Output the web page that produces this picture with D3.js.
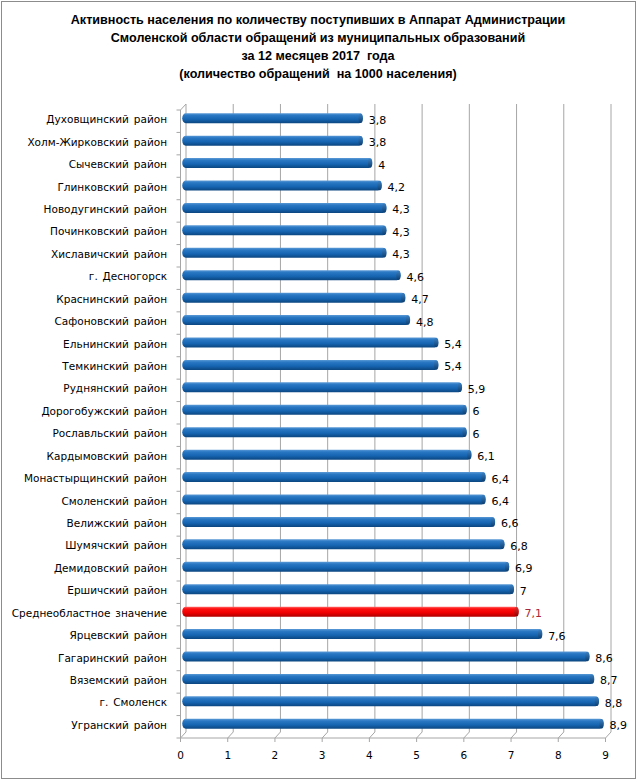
<!DOCTYPE html>
<html><head><meta charset="utf-8">
<script src="https://cdn.jsdelivr.net/npm/d3@7"></script>
<style>body{margin:0;background:#fff}svg{display:block}</style>
</head><body>
<script>
const categories = ["Духовщинский район","Холм-Жирковский район","Сычевский район","Глинковский район","Новодугинский район","Починковский район","Хиславичский район","г. Десногорск","Краснинский район","Сафоновский район","Ельнинский район","Темкинский район","Руднянский район","Дорогобужский район","Рославльский район","Кардымовский район","Монастырщинский район","Смоленский район","Велижский район","Шумячский район","Демидовский район","Ершичский район","Среднеобластное значение","Ярцевский район","Гагаринский район","Вяземский район","г. Смоленск","Угранский район"];
const values = [3.8,3.8,4,4.2,4.3,4.3,4.3,4.6,4.7,4.8,5.4,5.4,5.9,6,6,6.1,6.4,6.4,6.6,6.8,6.9,7,7.1,7.6,8.6,8.7,8.8,8.9];
const valueLabels = ["3,8","3,8","4","4,2","4,3","4,3","4,3","4,6","4,7","4,8","5,4","5,4","5,9","6","6","6,1","6,4","6,4","6,6","6,8","6,9","7","7,1","7,6","8,6","8,7","8,8","8,9"];
const highlight = "Среднеобластное значение";
const xTicks = [0,1,2,3,4,5,6,7,8,9];
const titleLines = ["Активность населения по количеству поступивших в Аппарат Администрации","Смоленской области обращений из муниципальных образований","за 12 месяцев 2017  года","(количество обращений  на 1000 населения)"];

const W = 639, H = 783;
const svg = d3.select("body").append("svg").attr("width", W).attr("height", H);
svg.append("rect").attr("x",1.5).attr("y",1.5).attr("width",634).attr("height",777).attr("fill","#fff").attr("stroke","#8c8c8c").attr("stroke-width",1);

// title
svg.append("g").selectAll("text").data(titleLines).join("text")
  .attr("x", 318).attr("y", (d,i)=>24 + i*18)
  .attr("text-anchor","middle").attr("font-family","Liberation Sans, Arial, sans-serif")
  .attr("font-weight","bold").attr("font-size","12.6px").attr("fill","#000")
  .attr("xml:space","preserve").style("white-space","pre").text(d=>d);

const x = d3.scaleLinear().domain([0,9]).range([180.5, 605.5]);
const y = d3.scaleBand().domain(categories).range([110, 738]);
const DX = 5.5, DY = -6; // depth offset of back wall

const defs = svg.append("defs");
function grad(id, stops){
  const g = defs.append("linearGradient").attr("id",id).attr("x1",0).attr("y1",0).attr("x2",0).attr("y2",1);
  stops.forEach(s=>g.append("stop").attr("offset",s[0]).attr("stop-color",s[1]));
}
grad("gBlue",[[0,"#5b9ad6"],[0.22,"#2a78c4"],[0.6,"#1665b2"],[1,"#0b4680"]]);
grad("gRed",[[0,"#ff6a6a"],[0.22,"#ff1010"],[0.6,"#f00000"],[1,"#b00000"]]);
grad("gBlueCap",[[0,"#3d82c4"],[1,"#0a3d70"]]);
grad("gRedCap",[[0,"#e03030"],[1,"#900000"]]);

const grid = svg.append("g").attr("stroke","#a6a6a6").attr("stroke-width",1).attr("fill","none");
grid.selectAll("line.v").data(xTicks).join("line").attr("class","v")
  .attr("x1", d=>x(d)+DX).attr("x2", d=>x(d)+DX)
  .attr("y1", 110+DY).attr("y2", 738+DY);
grid.selectAll("line.s").data(xTicks).join("line").attr("class","s")
  .attr("x1", d=>x(d)).attr("x2", d=>x(d)+DX)
  .attr("y1", 738).attr("y2", 738+DY);
grid.append("line").attr("x1",x(0)).attr("x2",x(9)).attr("y1",738).attr("y2",738);
grid.append("line").attr("x1",x(0)).attr("x2",x(0)).attr("y1",110).attr("y2",738);
grid.append("line").attr("x1",x(0)).attr("x2",x(0)+DX).attr("y1",110).attr("y2",110+DY);
grid.selectAll("line.t").data(xTicks).join("line").attr("class","t")
  .attr("x1", d=>x(d)).attr("x2", d=>x(d)).attr("y1",738).attr("y2",742);
const bounds = categories.map(c=>y(c)).concat([738]);
grid.selectAll("line.c").data(bounds).join("line").attr("class","c")
  .attr("x1", x(0)-4).attr("x2", x(0)).attr("y1", d=>d).attr("y2", d=>d);

// bars
const bh = 10;
const bars = svg.append("g");
categories.forEach((c,i)=>{
  const v = values[i];
  const red = c===highlight;
  const cy = y(c) + y.bandwidth()/2 + DY/2;
  const x0 = x(0) + DX/2 - 1;
  const x1 = x(v) + DX/2;
  bars.append("rect").attr("x", x0).attr("y", cy-bh/2).attr("width", x1-x0).attr("height", bh)
    .attr("rx",3.5).attr("ry",5).attr("fill", red?"url(#gRed)":"url(#gBlue)");
  bars.append("ellipse").attr("cx", x1-2).attr("cy", cy).attr("rx",2.2).attr("ry",bh/2-0.3)
    .attr("fill", red?"url(#gRedCap)":"url(#gBlueCap)");
});

// value labels
svg.append("g").selectAll("text").data(categories).join("text")
  .attr("x", (c,i)=>x(values[i]) + DX/2 + 6)
  .attr("y", c=>y(c) + y.bandwidth()/2 + DY/2 + 5.5)
  .attr("font-family","DejaVu Sans, Verdana, sans-serif").attr("font-size","11px")
  .attr("fill", c=>c===highlight?"#a8283a":"#000")
  .text((c,i)=>valueLabels[i]);

// category labels
svg.append("g").selectAll("text").data(categories).join("text")
  .attr("x", 167).attr("y", c=>y(c)+y.bandwidth()/2 + 2)
  .attr("text-anchor","end")
  .attr("font-family","DejaVu Sans, Verdana, sans-serif").attr("font-size","10.5px")
  .attr("word-spacing","1.5px")
  .attr("fill","#000").text(c=>c);

// x tick labels
svg.append("g").selectAll("text").data(xTicks).join("text")
  .attr("x", d=>x(d)).attr("y", 759).attr("text-anchor","middle")
  .attr("font-family","DejaVu Sans, Verdana, sans-serif").attr("font-size","10.5px")
  .attr("fill","#000").text(d=>d);
</script>
</body></html>
